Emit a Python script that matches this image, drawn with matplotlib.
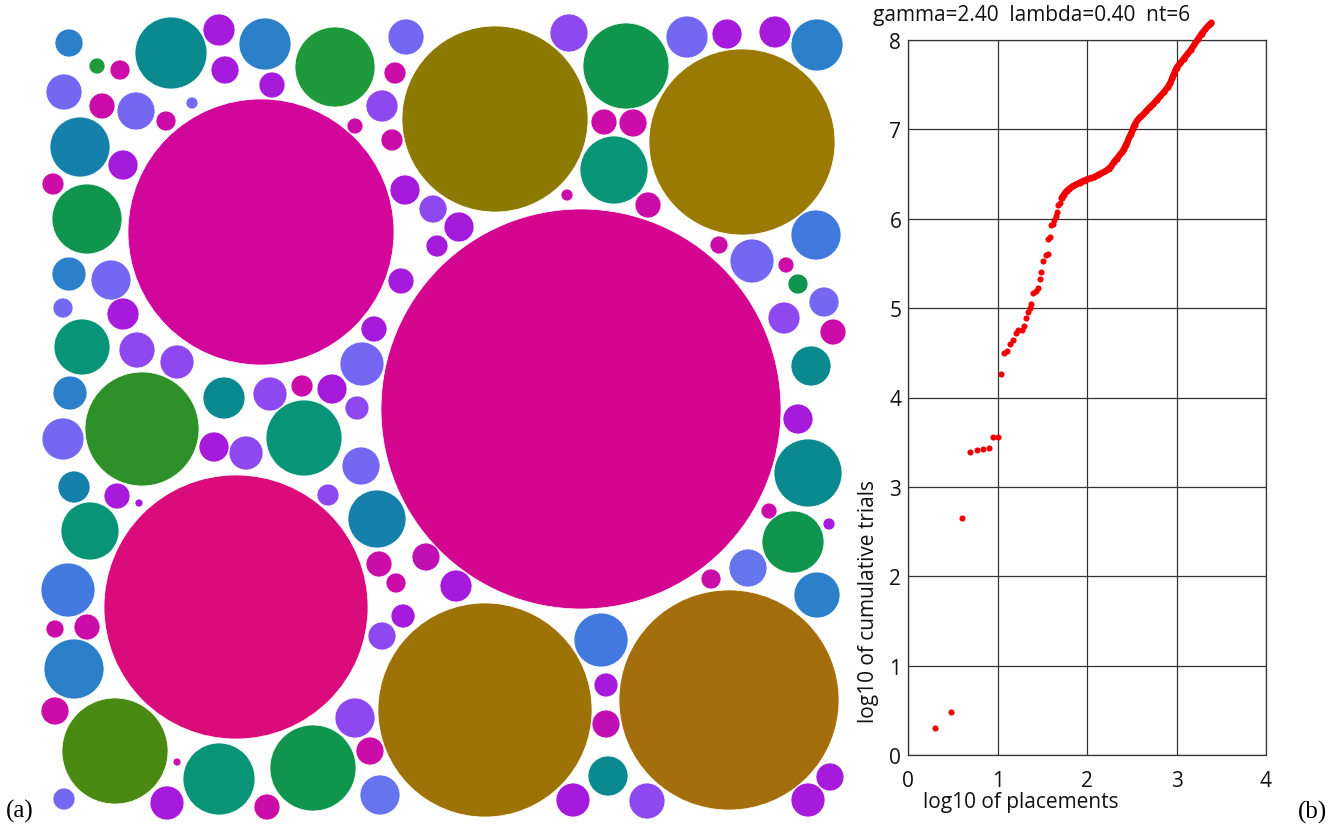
import matplotlib
matplotlib.use("Agg")
import matplotlib.pyplot as plt
from matplotlib.patches import Circle

W, H = 1336, 828

# ---------------- panel (a): packed discs (centre x, centre y, radius, colour key) -------------
palette = {
    "M1": "#D4068F", "M2": "#D2069B", "M3": "#DA0B7B", "MS": "#CC0CA8",
    "MP": "#C010B4",
    "O1": "#8C7A02", "O2": "#9A7904", "O3": "#9D7307", "O4": "#A36E0B",
    "PU": "#A61ADC", "PL": "#8E48F0", "PW": "#7468F2", "PB": "#6674EE",
    "BL": "#2C80CA", "BB": "#4279DE", "TB": "#1680AC",
    "TE": "#0A898E", "TG": "#089476", "GR": "#1E9A3C", "GE": "#10954E",
    "GO": "#2D9029", "GL": "#4A8A12",
}

circle_x = [581, 261, 236, 495, 742, 485, 729,
            171, 335, 626, 614, 817, 265, 80, 87, 82, 142, 224, 304, 377, 90, 68, 74,
            115, 219, 313, 380, 601, 608, 808, 793, 817, 816, 811,
            69, 97, 120, 219, 225, 272, 406, 395, 64, 102, 136, 192, 166, 382, 355, 392,
            123, 53, 405, 433, 459, 437, 69, 111, 63, 123, 137, 177, 70, 270, 302, 332,
            357, 401, 374, 362, 63, 214, 246, 361, 74, 117, 139, 328, 379, 396, 426, 403,
            382, 55, 87, 55, 355, 370, 177, 64, 167, 267,
            569, 687, 727, 775, 604, 633, 567, 648, 719, 752, 786, 798, 824, 784, 833,
            798, 769, 829, 748, 711, 456, 606, 606, 573, 647, 830, 808]
circle_y = [410, 233, 608, 120, 143, 711, 701,
            54, 68, 67, 171, 46, 45, 148, 220, 348, 430, 399, 439, 520, 532, 591, 670,
            752, 780, 769, 796, 641, 777, 474, 543, 596, 236, 367,
            44, 67, 71, 31, 71, 86, 38, 74, 93, 107, 112, 104, 122, 107, 127, 141,
            166, 185, 191, 210, 228, 247, 275, 281, 309, 315, 351, 363, 394, 395, 387, 390,
            409, 282, 330, 365, 440, 448, 454, 467, 488, 497, 504, 496, 565, 584, 558, 617,
            637, 630, 628, 712, 719, 752, 763, 800, 804, 808,
            34, 38, 35, 33, 123, 124, 196, 206, 246, 262, 266, 285, 303, 319, 333,
            420, 512, 525, 569, 580, 587, 686, 725, 801, 802, 778, 801]
circle_r = [200, 133, 132, 93, 93, 107, 110,
            36, 40, 43, 34, 26, 26, 30, 35, 28, 57, 21, 38, 29, 29, 27, 30,
            53, 36, 43, 20, 27, 20, 34, 31, 23, 25, 20,
            14, 8, 10, 16, 14, 13, 18, 11, 18, 13, 19, 6, 10, 16, 8, 11,
            15, 11, 15, 14, 15, 11, 17, 20, 10, 16, 18, 17, 17, 17, 11, 15,
            12, 13, 13, 22, 21, 15, 17, 19, 16, 13, 4, 11, 13, 10, 14, 12,
            14, 9, 13, 14, 20, 14, 4, 11, 17, 13,
            19, 21, 15, 16, 13, 14, 6, 13, 9, 22, 8, 10, 15, 16, 13,
            15, 8, 6, 19, 10, 16, 12, 14, 17, 18, 14, 17]
circle_color = ["M1", "M2", "M3", "O1", "O2", "O3", "O4",
                "TE", "GR", "GE", "TG", "BL", "BL", "TB", "GE", "TG", "GO", "TE", "TG", "TB", "TG", "BB", "BL",
                "GL", "TG", "GE", "PB", "BB", "TE", "TE", "GE", "BL", "BB", "TE",
                "BL", "GR", "MS", "PU", "PU", "PU", "PW", "MS", "PW", "MS", "PW", "PW", "MS", "PL", "MS", "MS",
                "PU", "MS", "PU", "PL", "PU", "PU", "BL", "PW", "PW", "PU", "PL", "PL", "BL", "PL", "MS", "PU",
                "PL", "PU", "PU", "PW", "PW", "PU", "PL", "PW", "TB", "PU", "PU", "PL", "MS", "MS", "MP", "PU",
                "PL", "MS", "MS", "MS", "PL", "MS", "MS", "PW", "PU", "MS",
                "PL", "PW", "PU", "PU", "MS", "MS", "MS", "MS", "MS", "PW", "MS", "GE", "PW", "PL", "MS",
                "PU", "MS", "PU", "PB", "MS", "PU", "PU", "MP", "PU", "PL", "PU", "PU"]

# ---------------- panel (b): cumulative trials versus placements (log10 / log10) ---------------
# isolated early placements
early_x = [0.30, 0.477, 0.60, 0.69, 0.77, 0.84, 0.90, 0.95, 1.00, 1.036, 1.07, 1.106, 1.136,
           1.166, 1.20, 1.229, 1.267, 1.293, 1.315, 1.341, 1.36, 1.371, 1.397, 1.424, 1.453,
           1.472, 1.483, 1.505, 1.535, 1.557, 1.564, 1.583, 1.594, 1.62, 1.631, 1.647, 1.661,
           1.676, 1.695]
early_y = [0.30, 0.477, 2.655, 3.386, 3.415, 3.426, 3.43, 3.557, 3.557, 4.26, 4.50, 4.52, 4.60,
           4.645, 4.72, 4.754, 4.76, 4.80, 4.895, 4.96, 5.0, 5.045, 5.164, 5.194, 5.227,
           5.324, 5.406, 5.529, 5.60, 5.604, 5.77, 5.80, 5.93, 5.94, 5.988, 6.033, 6.07,
           6.15, 6.18]
# later placements, dense enough to merge into a trace
late_x = [1.714, 1.74, 1.77, 1.80, 1.84, 1.88, 1.92, 1.96, 2.00, 2.04, 2.08, 2.12, 2.16, 2.20,
          2.24, 2.27, 2.30, 2.33, 2.36, 2.39, 2.41, 2.43, 2.45, 2.47, 2.49, 2.51, 2.53, 2.56,
          2.59, 2.63, 2.66, 2.70, 2.74, 2.78, 2.82, 2.86, 2.90, 2.93, 2.95, 2.97, 3.00, 3.04,
          3.08, 3.12, 3.16, 3.20, 3.24, 3.28, 3.32, 3.36, 3.39]
late_y = [6.23, 6.27, 6.31, 6.335, 6.365, 6.385, 6.405, 6.425, 6.44, 6.455, 6.465, 6.49, 6.51,
          6.53, 6.56, 6.59, 6.635, 6.67, 6.71, 6.745, 6.78, 6.82, 6.86, 6.91, 6.95, 7.00, 7.05,
          7.10, 7.135, 7.17, 7.205, 7.245, 7.285, 7.33, 7.375, 7.42, 7.47, 7.52, 7.57, 7.62,
          7.69, 7.74, 7.79, 7.84, 7.89, 7.95, 8.01, 8.07, 8.12, 8.165, 8.195]

x_ticks = [0, 1, 2, 3, 4]
y_ticks = [0, 1, 2, 3, 4, 5, 6, 7, 8]
title_text = "gamma=2.40  lambda=0.40  nt=6"
x_label = "log10 of placements"
y_label = "log10 of cumulative trials"

SANS = ["Open Sans", "DejaVu Sans"]
SERIF = ["Liberation Serif", "DejaVu Serif"]


def fx(px):
    return px / W


def fy(py):
    return 1 - py / H


fig = plt.figure(figsize=(W / 100, H / 100), dpi=100)
fig.patch.set_facecolor("white")

# disc panel, one data unit per pixel
ax1 = fig.add_axes([0, 0, 860 / W, 1])
ax1.set_xlim(0, 860)
ax1.set_ylim(H, 0)
ax1.axis("off")
for x, y, r, c in zip(circle_x, circle_y, circle_r, circle_color):
    ax1.add_patch(Circle((x, y), r, facecolor=palette[c], edgecolor="white",
                         linewidth=0.5, alpha=1.0))

# curve panel
left, right, top, bottom = 908.3, 1266.0, 41.0, 756.0
ax2 = fig.add_axes([fx(left), fy(bottom), (right - left) / W, (bottom - top) / H])
ax2.set_xlim(0, 4)
ax2.set_ylim(0, 8)
ax2.set_xticks(x_ticks)
ax2.set_yticks(y_ticks)
ax2.grid(True, color="#333333", linewidth=0.9)
for s in ax2.spines.values():
    s.set_color("#333333")
    s.set_linewidth(0.9)
ax2.tick_params(length=0, labelsize=15, colors="#111111")
ax2.tick_params(axis="x", pad=11)
ax2.tick_params(axis="y", pad=5)
for lab in ax2.get_xticklabels() + ax2.get_yticklabels():
    lab.set_family(SANS)

ax2.plot(late_x, late_y, color="#F00000", linewidth=4.6, solid_capstyle="round",
         clip_on=False, zorder=3)
ax2.plot(early_x + late_x, early_y + late_y, linestyle="none", marker="o", markersize=4.4,
         color="#F00000", markeredgewidth=0, clip_on=False, zorder=4)

fig.text(fx(873), fy(16), title_text, fontsize=15, family=SANS, ha="left", va="center",
         color="#111111")
fig.text(fx(1021), fy(803), x_label, fontsize=15, family=SANS, ha="center", va="center",
         color="#111111")
fig.text(fx(869), fy(602), y_label, fontsize=15, family=SANS, ha="center", va="center",
         rotation=90, color="#111111")

fig.text(fx(6), fy(811), "(a)", fontsize=18, family=SERIF, ha="left", va="center")
fig.text(fx(1327), fy(812), "(b)", fontsize=18, family=SERIF, ha="right", va="center")

fig.savefig("out.png", dpi=100, facecolor="white")
